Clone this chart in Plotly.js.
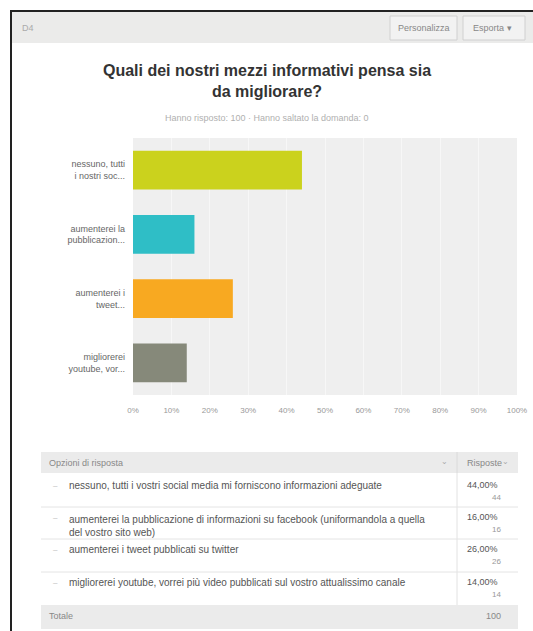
<!DOCTYPE html>
<html>
<head>
<meta charset="utf-8">
<script src="https://cdn.plot.ly/plotly-3.0.1.min.js"></script>
<style>
html,body{margin:0;padding:0;background:#fff;}
#chart{width:533px;height:631px;}
</style>
</head>
<body>
<div id="chart"></div>
<script>
// ---- data ----
var shortLabels = [
  "nessuno, tutti<br>i nostri soc...",
  "aumenterei la<br>pubblicazion...",
  "aumenterei i<br>tweet...",
  "migliorerei<br>youtube, vor..."
];
var fullLabels = [
  "nessuno, tutti i vostri social media mi forniscono informazioni adeguate",
  "aumenterei la pubblicazione di informazioni su facebook (uniformandola a quella<br>del vostro sito web)",
  "aumenterei i tweet pubblicati su twitter",
  "migliorerei youtube, vorrei più video pubblicati sul vostro attualissimo canale"
];
var percentages = [44, 16, 26, 14];
var counts = [44, 16, 26, 14];
var barColors = ["#cbd21d", "#2fbec6", "#f8a921", "#86897a"];
var tickVals = [0, 10, 20, 30, 40, 50, 60, 70, 80, 90, 100];
var tickText = ["0%", "10%", "20%", "30%", "40%", "50%", "60%", "70%", "80%", "90%", "100%"];
var titleText = "Quali dei nostri mezzi informativi pensa sia<br>da migliorare?";
var subtitleText = "Hanno risposto: 100 · Hanno saltato la domanda: 0";
var total = 100;

// ---- geometry helpers (pixel -> paper) ----
var W = 533, H = 631;
var mL = 133, mR = 16, mT = 138, mB = 236;
var pw = W - mL - mR, ph = H - mT - mB;
function px(x){ return (x - mL) / pw; }
function py(y){ return (H - mB - y) / ph; }

var FONT = "Liberation Sans, Arial, sans-serif";
var shapes = [], ann = [];

function rect(x0,y0,x1,y1,fill,line){
  shapes.push({type:'rect',xref:'paper',yref:'paper',x0:px(x0),x1:px(x1),y0:py(y1),y1:py(y0),
    fillcolor:fill,line:line||{width:0},layer:'below'});
}
function hline(x0,x1,y,color,w){
  shapes.push({type:'line',xref:'paper',yref:'paper',x0:px(x0),x1:px(x1),y0:py(y),y1:py(y),
    line:{color:color,width:w||1},layer:'below'});
}
function vline(x,y0,y1,color,w){
  shapes.push({type:'line',xref:'paper',yref:'paper',x0:px(x),x1:px(x),y0:py(y0),y1:py(y1),
    line:{color:color,width:w||1},layer:'below'});
}
function text(x,y,t,size,color,anchor,bold){
  ann.push({xref:'paper',yref:'paper',x:px(x),y:py(y),text:bold?'<b>'+t+'</b>':t,showarrow:false,
    xanchor:anchor||'left',yanchor:'middle',align:anchor||'left',
    font:{family:FONT,size:size,color:color}});
}

// outer frame
hline(10,533,11,'#222',2);
vline(11,10,631,'#222',2);
// header bar
rect(12,12,533,43,'#ebebea');
text(20,28,"D4",9,'#aaa','left');
rect(390,16,457,40,'#f2f2f2',{color:'#d0d0d0',width:1});
text(423.5,28,"Personalizza",9,'#888','center');
rect(463,16,525,40,'#f2f2f2',{color:'#d0d0d0',width:1});
text(492,28,"Esporta ▾",9,'#888','center');

// subtitle
text(267,118,subtitleText,9,'#b0b0b0','center');

// table
var tL = 41, tR = 518, tDiv = 457;
rect(tL,452,tR,473,'#ebebeb');
vline(tDiv,452,473,'#dadada');
text(47,462.5,"Opzioni di risposta",9,'#888','left');
text(450,461,"⌄",8,'#aaa','right');
text(465,462.5,"Risposte",9,'#888','left');
text(511,461,"⌄",8,'#aaa','right');
vline(tDiv,473,605,'#e2e2e2');
var rowTop = [473,507,539,572];
var rowBot = [507,539,572,605];
for (var i=0;i<4;i++){
  if(i<3) hline(tL,tR,rowBot[i],'#e4e4e4');
  var two = fullLabels[i].indexOf('<br>')>=0;
  var cy = rowTop[i] + (i===0 ? 12 : 10);
  text(51,cy,"–",8,'#bbb','left');
  var ty = two ? cy + 8.5 : cy;
  ann.push({xref:'paper',yref:'paper',x:px(67),y:py(ty),text:fullLabels[i],showarrow:false,
    xanchor:'left',yanchor:'middle',align:'left',font:{family:FONT,size:10,color:'#555'}});
  text(465,cy,percentages[i].toFixed(2).replace('.',',')+'%',9,'#555','left');
  text(503,cy+12,String(counts[i]),8,'#999','right');
}
rect(tL,605,tR,629,'#ebebeb');
text(47,616,"Totale",9,'#888','left');
text(503,616,String(total),9,'#888','right');

var trace = {
  type:'bar', orientation:'h',
  y: shortLabels, x: percentages,
  marker:{color:barColors},
  hoverinfo:'x+y'
};

var layout = {
  width:W, height:H,
  margin:{l:mL,r:mR,t:mT,b:mB,pad:0},
  paper_bgcolor:'#ffffff',
  plot_bgcolor:'#efefef',
  showlegend:false,
  bargap:0.4,
  title:{text:titleText, x:(267/W), xanchor:'center', y:1-(76/H), yanchor:'middle',
    font:{family:FONT,size:16,color:'#333',weight:'bold'}},
  xaxis:{range:[0,100],tickvals:tickVals,ticktext:tickText,showgrid:true,gridcolor:'#f7f7f7',gridwidth:1,
    zeroline:false,showline:false,ticks:'',ticklen:0,ticklabelstandoff:9,
    tickfont:{family:FONT,size:8,color:'#999'},fixedrange:true},
  yaxis:{autorange:'reversed',showgrid:false,zeroline:false,showline:false,ticks:'',
    tickfont:{family:FONT,size:9,color:'#666'},fixedrange:true,ticklabelstandoff:7},
  shapes:shapes,
  annotations:ann
};

Plotly.newPlot('chart',[trace],layout,{displayModeBar:false,staticPlot:true});
</script>
</body>
</html>
